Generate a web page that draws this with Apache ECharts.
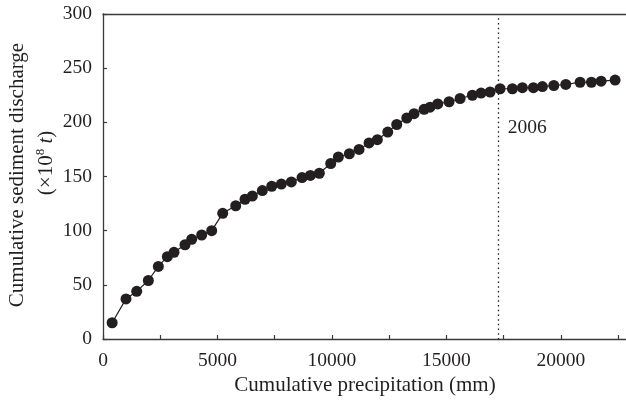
<!DOCTYPE html>
<html>
<head>
<meta charset="utf-8">
<script src="https://cdn.jsdelivr.net/npm/echarts@6/dist/echarts.min.js"></script>
<style>
  html, body { margin: 0; padding: 0; background: #fff; }
  #chart { width: 626px; height: 402px; }
</style>
</head>
<body>
<div id="chart"></div>
<script>
// cumulative precipitation (mm) and cumulative sediment discharge (x10^8 t)
var precip = [400, 1005, 1472, 1981, 2418, 2811, 3103, 3583, 3875, 4311,
  4749, 5230, 5799, 6205, 6526, 6962, 7372, 7792, 8229, 8696,
  9059, 9452, 9950, 10283, 10764, 11187, 11624, 11987, 12441, 12834,
  13271, 13591, 14028, 14290, 14626, 15120, 15601, 16138, 16519, 16912,
  17349, 17887, 18324, 18804, 19198, 19696, 20220, 20845, 21339, 21763, 22374];
var sediment = [15, 37, 44, 54, 67, 76, 80, 87, 92, 96,
  100, 116, 123, 129, 132, 137, 141, 143, 145, 149,
  151, 153, 162, 168, 171, 175, 181, 184, 191, 198,
  204, 208, 212, 214, 217, 219, 222, 225, 227, 228,
  231, 231, 232, 232, 233, 234, 235, 237, 237, 238, 239];
var breakX = 17250;   // 2006
var breakLabel = '2006';
var xLabels = [0, 5000, 10000, 15000, 20000];
var yTicks = [0, 50, 100, 150, 200, 250, 300];

var font = 'Liberation Serif';
var ink = '#231f20';
var axisCol = '#3a3a3a';

var points = precip.map(function (p, i) { return [p, sediment[i]]; });

var chart = echarts.init(document.getElementById('chart'));
var option = {
  animation: false,
  backgroundColor: '#fff',
  grid: { left: 103, right: 0, top: 14, bottom: 63 },
  xAxis: [{
    type: 'value',
    min: 0,
    max: 22850,
    interval: 2500,
    splitLine: { show: false },
    axisLine: { lineStyle: { color: axisCol, width: 1.3 } },
    axisTick: { inside: true, length: 4, lineStyle: { color: axisCol, width: 1.2 } },
    axisLabel: {
      color: ink, fontFamily: font, fontSize: 19.5, margin: 12,
      showMaxLabel: false,
      formatter: function (v) { return xLabels.indexOf(v) >= 0 ? String(v) : ''; }
    }
  }, {
    type: 'value',
    position: 'top',
    min: 0,
    max: 22850,
    splitLine: { show: false },
    axisLine: { show: true, lineStyle: { color: axisCol, width: 1.3 } },
    axisTick: { show: false },
    axisLabel: { show: false }
  }],
  yAxis: {
    type: 'value',
    min: yTicks[0],
    max: yTicks[yTicks.length - 1],
    interval: 50,
    splitLine: { show: false },
    axisLine: { show: true, lineStyle: { color: axisCol, width: 1.3 } },
    axisTick: { inside: true, length: 4, lineStyle: { color: axisCol, width: 1.2 } },
    axisLabel: { color: ink, fontFamily: font, fontSize: 19.5, margin: 11 }
  },
  series: [{
    type: 'line',
    data: points,
    symbol: 'circle',
    symbolSize: 11,
    itemStyle: { color: '#231f20' },
    lineStyle: { color: '#231f20', width: 1.2 },
    markLine: {
      silent: true,
      symbol: 'none',
      label: { show: false },
      lineStyle: { color: '#231f20', type: [1.5, 3.2], width: 1.3 },
      data: [[{ coord: [breakX, 296] }, { coord: [breakX, 0] }]]
    }
  }],
  graphic: [{
    type: 'text',
    x: 17, y: 175,
    rotation: Math.PI / 2,
    style: {
      text: 'Cumulative sediment discharge',
      fill: ink, fontFamily: font, fontSize: 21,
      align: 'center', verticalAlign: 'middle'
    }
  }, {
    type: 'text',
    x: 46, y: 163,
    rotation: Math.PI / 2,
    style: {
      text: '(×10{sup|8} {it|t})',
      fill: ink, fontFamily: font, fontSize: 21,
      align: 'center', verticalAlign: 'middle',
      rich: {
        sup: { fontFamily: font, fontSize: 13, fill: ink, padding: [0, 0, 10, 0] },
        it: { fontFamily: font, fontSize: 21, fontStyle: 'italic', fill: ink }
      }
    }
  }, {
    type: 'text',
    x: 365, y: 385,
    style: {
      text: 'Cumulative precipitation (mm)',
      fill: ink, fontFamily: font, fontSize: 21,
      align: 'center', verticalAlign: 'middle'
    }
  }]
};
chart.setOption(option);

// year label just right of the dotted line
var pos = chart.convertToPixel({ xAxisIndex: 0, yAxisIndex: 0 }, [breakX, 195]);
chart.setOption({
  graphic: [{}, {}, {}, {
    type: 'text',
    x: pos[0] + 10, y: pos[1],
    style: {
      text: breakLabel,
      fill: ink, fontFamily: font, fontSize: 19.5,
      align: 'left', verticalAlign: 'middle'
    }
  }]
});
</script>
</body>
</html>
